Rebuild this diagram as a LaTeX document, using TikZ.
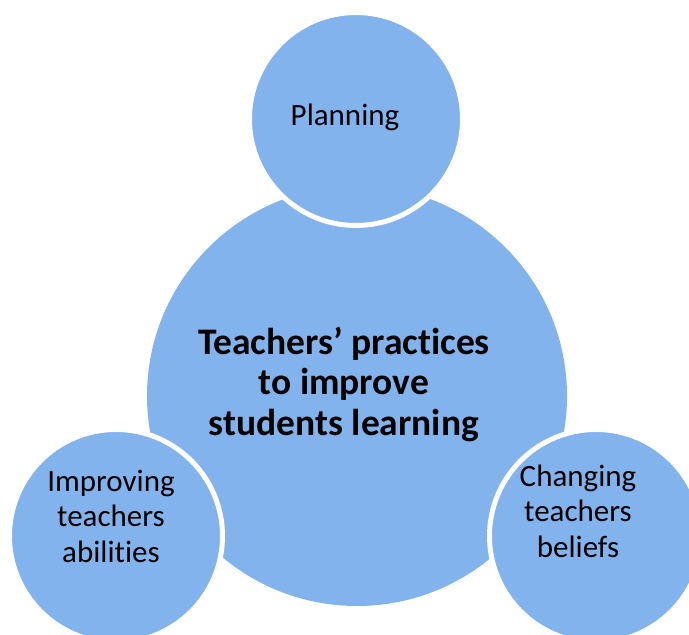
\documentclass[tikz,border=0pt]{standalone}
\usepackage{fontspec}
\setmainfont{Carlito}[Ligatures=NoCommon]
\usepackage{tikz}
\usetikzlibrary{positioning}
\definecolor{petal}{RGB}{131,179,237}

\begin{document}
\begin{tikzpicture}[
    x=1pt, y=-1pt,
    hub/.style={circle, fill=petal, inner sep=0pt, minimum size=420pt},
    satellite/.style={circle, fill=petal, draw=white, line width=5pt,
                      inner sep=0pt, minimum size=213pt},
    lbl/.style={align=center, inner sep=0pt,
                font=\fontsize{31}{35.5}\selectfont},
    mainlbl/.style={align=center, inner sep=0pt,
                    font=\fontsize{37.5}{40.5}\selectfont\bfseries},
  ]
  \useasboundingbox (0,0) rectangle (689,635);

  \node[hub] (hub) at (357,396) {};
  \node[satellite] (plan) at (356,119) {};
  \node[satellite] (abil) at (116,536) {};
  \node[satellite] (belief) at (596,536) {};

  % captions sit a little above the circle centres (base = last line)
  \node[mainlbl, anchor=base] (hubtext) at (344,435)
    {Teachers’ practices\\to improve\\students learning};
  \node[lbl, anchor=base] (plantext) at (345,125) {Planning};
  \node[lbl, anchor=base] (abiltext) at (111,562)
    {Improving\\teachers\\abilities};
  \node[lbl, anchor=base] (belieftext) at (578,557)
    {Changing\\teachers\\beliefs};
\end{tikzpicture}
\end{document}
